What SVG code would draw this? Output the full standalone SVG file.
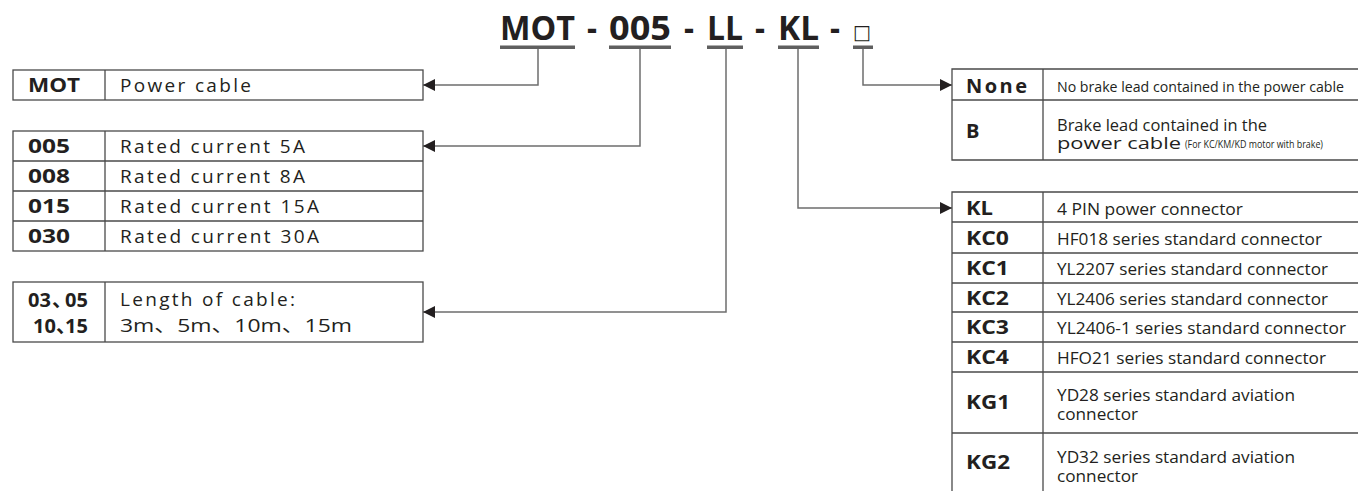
<svg xmlns="http://www.w3.org/2000/svg" width="1358" height="491" viewBox="0 0 1358 491">
<defs>
<style>
.t{font-family:"Open Sans","Noto Sans","Noto Sans CJK SC",sans-serif;fill:#231f20}
.ttl{font-size:34px;font-weight:700}
.code{font-size:20px;font-weight:700}
.desc{font-size:19px}
.rd{font-size:17px}
.sm{font-size:10px}
.box{fill:none;stroke:#4a4a4a;stroke-width:1.3}
.ln{fill:none;stroke:#4a4a4a;stroke-width:1.3}
.ul{fill:#5f5f5f}
.con{fill:none;stroke:#6e6e6e;stroke-width:1.5}
</style>
<marker id="ah" viewBox="0 0 12 12" refX="12" refY="6" markerWidth="12" markerHeight="12" markerUnits="userSpaceOnUse" orient="auto">
<path d="M0,0 L12,6 L0,12 Z" fill="#231f20"/>
</marker>
</defs>
<rect width="1358" height="491" fill="#fff"/>

<g id="title">
<text class="t ttl" x="500" y="40" textLength="75" lengthAdjust="spacingAndGlyphs">MOT</text>
<text class="t ttl" x="587" y="40" textLength="10" lengthAdjust="spacingAndGlyphs">-</text>
<text class="t ttl" x="609" y="40" textLength="62" lengthAdjust="spacingAndGlyphs">005</text>
<text class="t ttl" x="684" y="40" textLength="10" lengthAdjust="spacingAndGlyphs">-</text>
<text class="t ttl" x="707" y="40" textLength="36" lengthAdjust="spacingAndGlyphs">LL</text>
<text class="t ttl" x="755" y="40" textLength="10" lengthAdjust="spacingAndGlyphs">-</text>
<text class="t ttl" x="778" y="40" textLength="41" lengthAdjust="spacingAndGlyphs">KL</text>
<text class="t ttl" x="830" y="40" textLength="10" lengthAdjust="spacingAndGlyphs">-</text>
<text x="853" y="39" font-family="'DejaVu Sans',sans-serif" font-size="20" fill="#231f20" textLength="18" lengthAdjust="spacingAndGlyphs">□</text>
<rect class="ul" x="500" y="45.5" width="75" height="3.5"/>
<rect class="ul" x="609" y="45.5" width="62" height="3.5"/>
<rect class="ul" x="707" y="45.5" width="36" height="3.5"/>
<rect class="ul" x="778" y="45.5" width="41" height="3.5"/>
<rect class="ul" x="853" y="45.5" width="20" height="3.5"/>
</g>

<g id="connectors">
<polyline class="con" points="538,49 538,85 423,85" marker-end="url(#ah)"/>
<polyline class="con" points="640,49 640,146 423,146" marker-end="url(#ah)"/>
<polyline class="con" points="726,49 726,312 423,312" marker-end="url(#ah)"/>
<polyline class="con" points="798,49 798,208 952,208" marker-end="url(#ah)"/>
<polyline class="con" points="863,49 863,85 952,85" marker-end="url(#ah)"/>
</g>

<g id="node-mot">
<rect class="box" x="13" y="70" width="410" height="30"/>
<line class="ln" x1="105" y1="70" x2="105" y2="100"/>
<text class="t code" x="28" y="92" textLength="52" lengthAdjust="spacingAndGlyphs">MOT</text>
<text class="t desc" x="120" y="92" textLength="131" lengthAdjust="spacing">Power cable</text>
</g>

<g id="node-current">
<rect class="box" x="13" y="131" width="410" height="120"/>
<line class="ln" x1="105" y1="131" x2="105" y2="251"/>
<line class="ln" x1="13" y1="161" x2="423" y2="161"/>
<line class="ln" x1="13" y1="191" x2="423" y2="191"/>
<line class="ln" x1="13" y1="221" x2="423" y2="221"/>
<text class="t code" x="28" y="153" textLength="42" lengthAdjust="spacingAndGlyphs">005</text>
<text class="t code" x="28" y="183" textLength="42" lengthAdjust="spacingAndGlyphs">008</text>
<text class="t code" x="28" y="213" textLength="42" lengthAdjust="spacingAndGlyphs">015</text>
<text class="t code" x="28" y="243" textLength="42" lengthAdjust="spacingAndGlyphs">030</text>
<text class="t desc" x="120" y="153" textLength="185" lengthAdjust="spacing">Rated current 5A</text>
<text class="t desc" x="120" y="183" textLength="185" lengthAdjust="spacing">Rated current 8A</text>
<text class="t desc" x="120" y="213" textLength="199" lengthAdjust="spacing">Rated current 15A</text>
<text class="t desc" x="120" y="243" textLength="199" lengthAdjust="spacing">Rated current 30A</text>
</g>

<g id="node-length">
<rect class="box" x="13" y="282" width="410" height="60"/>
<line class="ln" x1="105" y1="282" x2="105" y2="342"/>
<text class="t code" x="28" y="307">03<tspan x="52">、</tspan><tspan x="65">05</tspan></text>
<text class="t code" x="33" y="333">10<tspan x="56">、</tspan><tspan x="65">15</tspan></text>
<text class="t desc" x="120" y="306" textLength="175" lengthAdjust="spacing">Length of cable:</text>
<text class="t desc" x="120" y="332" textLength="232" lengthAdjust="spacingAndGlyphs">3m、5m、10m、15m</text>
</g>

<g id="node-brake">
<path class="box" d="M1370,69 H952 V160 H1370"/>
<line class="ln" x1="952" y1="100" x2="1370" y2="100"/>
<line class="ln" x1="1043" y1="69" x2="1043" y2="160"/>
<text class="t code" x="966" y="93" textLength="61" lengthAdjust="spacing">None</text>
<text class="t code" x="966" y="138">B</text>
<text class="t" x="1057" y="92" font-size="15" textLength="287" lengthAdjust="spacingAndGlyphs">No brake lead contained in the power cable</text>
<text class="t" x="1057" y="131" font-size="16.5" textLength="210" lengthAdjust="spacingAndGlyphs">Brake lead contained in the</text>
<text class="t" x="1057" y="149" font-size="17" textLength="124" lengthAdjust="spacingAndGlyphs">power cable</text>
<text class="t sm" x="1185" y="148" textLength="138" lengthAdjust="spacingAndGlyphs">(For KC/KM/KD motor with brake)</text>
</g>

<g id="node-connector">
<path class="box" d="M1370,192 H952 V495"/>
<line class="ln" x1="1043" y1="192" x2="1043" y2="495"/>
<line class="ln" x1="952" y1="222" x2="1370" y2="222"/>
<line class="ln" x1="952" y1="253" x2="1370" y2="253"/>
<line class="ln" x1="952" y1="283" x2="1370" y2="283"/>
<line class="ln" x1="952" y1="312" x2="1370" y2="312"/>
<line class="ln" x1="952" y1="342" x2="1370" y2="342"/>
<line class="ln" x1="952" y1="372" x2="1370" y2="372"/>
<line class="ln" x1="952" y1="433" x2="1370" y2="433"/>
<text class="t code" x="966" y="215" textLength="27" lengthAdjust="spacingAndGlyphs">KL</text>
<text class="t code" x="966" y="245" textLength="43" lengthAdjust="spacingAndGlyphs">KC0</text>
<text class="t code" x="966" y="275" textLength="43" lengthAdjust="spacingAndGlyphs">KC1</text>
<text class="t code" x="966" y="305" textLength="43" lengthAdjust="spacingAndGlyphs">KC2</text>
<text class="t code" x="966" y="334" textLength="43" lengthAdjust="spacingAndGlyphs">KC3</text>
<text class="t code" x="966" y="364" textLength="43" lengthAdjust="spacingAndGlyphs">KC4</text>
<text class="t code" x="966" y="409" textLength="44" lengthAdjust="spacingAndGlyphs">KG1</text>
<text class="t code" x="966" y="469" textLength="44" lengthAdjust="spacingAndGlyphs">KG2</text>
<text class="t rd" x="1057" y="215" textLength="186" lengthAdjust="spacingAndGlyphs">4 PIN power connector</text>
<text class="t rd" x="1057" y="245" textLength="265" lengthAdjust="spacingAndGlyphs">HF018 series standard connector</text>
<text class="t rd" x="1057" y="275" textLength="271" lengthAdjust="spacingAndGlyphs">YL2207 series standard connector</text>
<text class="t rd" x="1057" y="305" textLength="271" lengthAdjust="spacingAndGlyphs">YL2406 series standard connector</text>
<text class="t rd" x="1057" y="334" textLength="289" lengthAdjust="spacingAndGlyphs">YL2406-1 series standard connector</text>
<text class="t rd" x="1057" y="364" textLength="269" lengthAdjust="spacingAndGlyphs">HFO21 series standard connector</text>
<text class="t" x="1057" y="401" font-size="16.5" textLength="238" lengthAdjust="spacingAndGlyphs">YD28 series standard aviation</text>
<text class="t" x="1057" y="420" font-size="16.5" textLength="81" lengthAdjust="spacingAndGlyphs">connector</text>
<text class="t" x="1057" y="463" font-size="16.5" textLength="238" lengthAdjust="spacingAndGlyphs">YD32 series standard aviation</text>
<text class="t" x="1057" y="482" font-size="16.5" textLength="81" lengthAdjust="spacingAndGlyphs">connector</text>
</g>
</svg>
